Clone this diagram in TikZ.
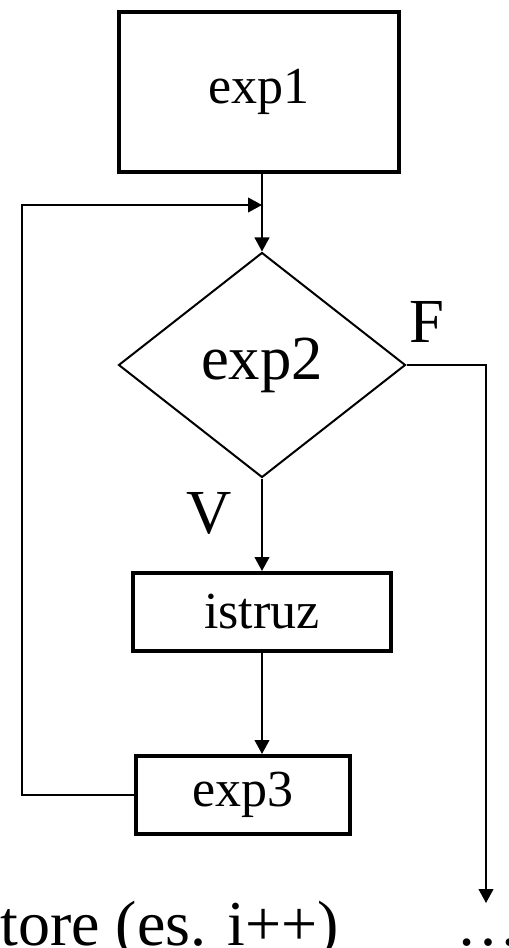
\documentclass[tikz,border=0pt]{standalone}
\usepackage{fontspec}
\setmainfont{Liberation Serif}
\usetikzlibrary{arrows.meta,shapes.geometric}
\tikzset{
  boxnode/.style={draw, line width=3pt, inner sep=0pt, font=\fontsize{39}{44}\selectfont},
  decnode/.style={draw, diamond, line width=1.5pt, inner sep=0pt, font=\fontsize{47}{52}\selectfont},
  lbl/.style={inner sep=0pt, font=\fontsize{47}{52}\selectfont},
  conn/.style={line width=1.5pt},
  arr/.style={conn, -{Triangle[length=10.5pt,width=11pt]}},
}
\begin{document}
\begin{tikzpicture}[x=0.75pt,y=-0.75pt]
\useasboundingbox (0,0) rectangle (509,948);
\clip (0,0) rectangle (509,948);
\node[boxnode, minimum width=210pt, minimum height=120pt] (exp1) at (259,92) {exp1};
\node[decnode, minimum width=215.25pt, minimum height=168.75pt] (dia) at (262,365) {exp2};
\node[boxnode, minimum width=193.5pt, minimum height=58.5pt] (istruz) at (262,612) {istruz};
\node[boxnode, minimum width=160.5pt, minimum height=58.5pt] (exp3) at (243,795) {exp3};
\coordinate (J) at (262,205);
\coordinate (L1) at (22,795);
\coordinate (R) at (486,365);
\coordinate (E) at (486,903);
\draw[arr] (exp1.south -| dia.north) -- (dia.north);
\draw[arr] (dia.south) -- (istruz.north);
\draw[arr] (istruz.south) -- (istruz.south |- exp3.north);
\draw[arr] (exp3.west) -- (L1) |- (J);
\draw[arr] (dia.east) -- (R) -- (E);
\node[lbl, anchor=base] (F) at (427,342) {F};
\node[lbl, anchor=base] (V) at (209,533) {V};
\node[lbl, anchor=base west, font=\fontsize{48}{52}\selectfont] (inc) at (0,945) {tore (es. i++)};
\node[lbl, anchor=base west, font=\fontsize{48}{52}\selectfont] (dots) at (456,945) {…};
\end{tikzpicture}
\end{document}
